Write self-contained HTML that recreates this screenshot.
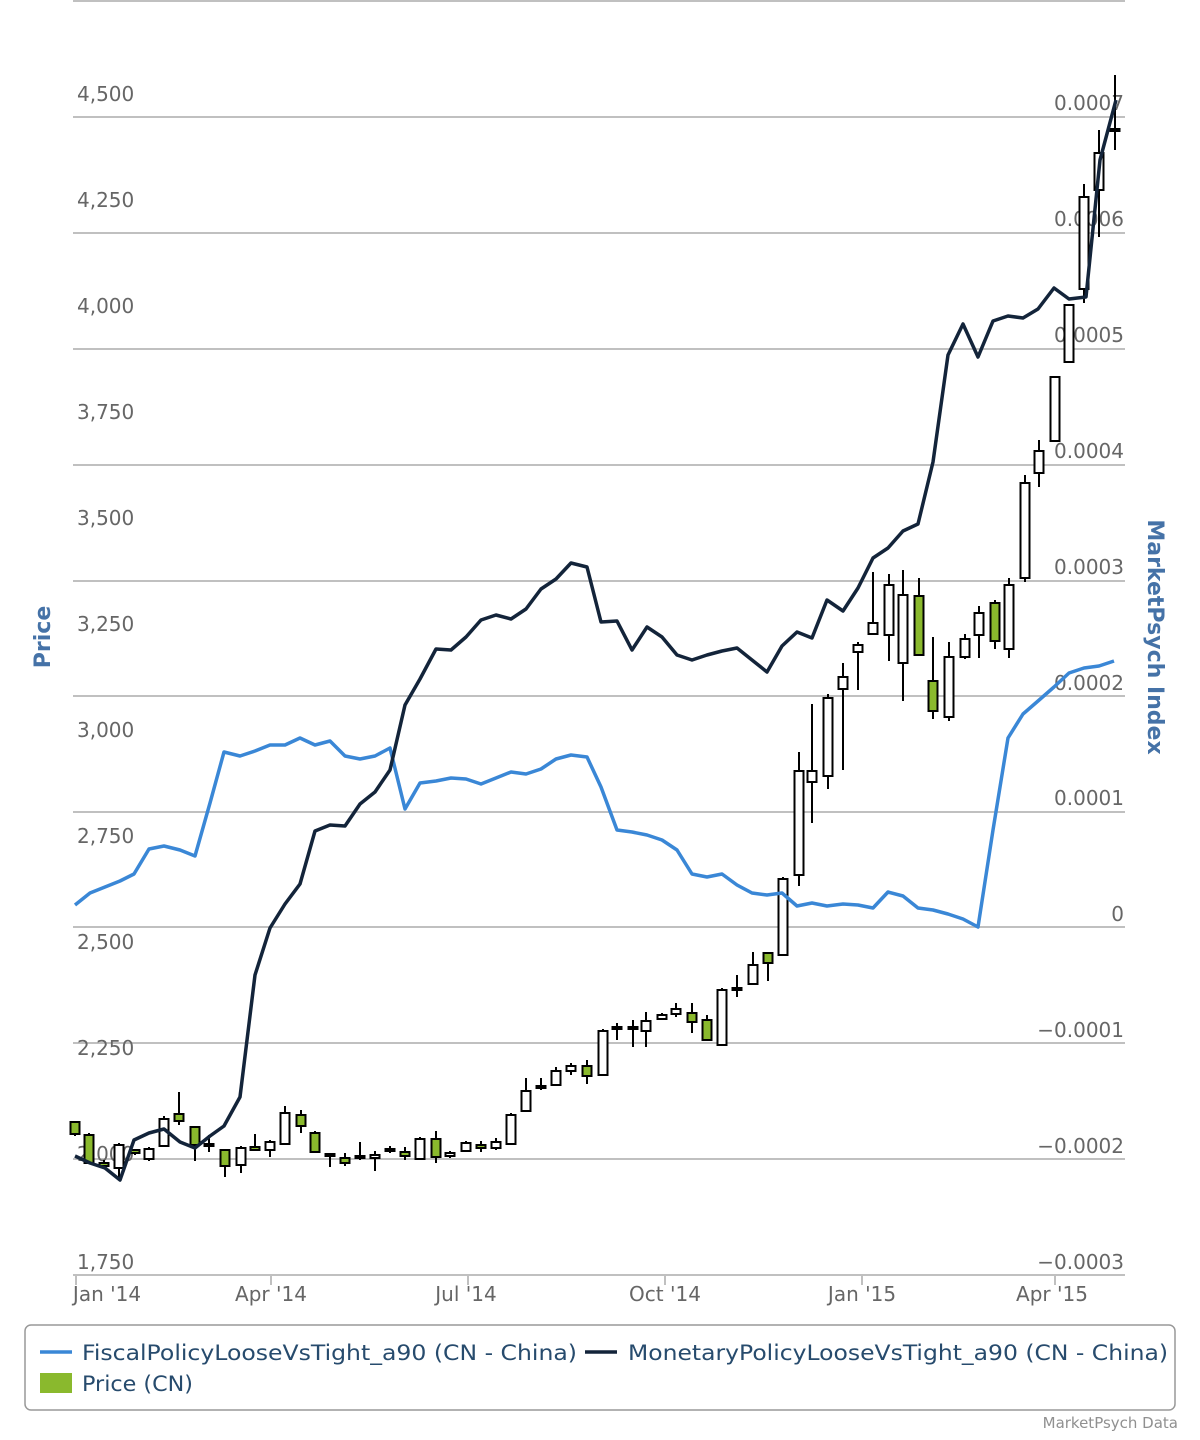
<!DOCTYPE html>
<html><head><meta charset="utf-8"><style>
html,body{margin:0;padding:0;background:#fff;}
svg{display:block;font-family:"DejaVu Sans","Liberation Sans",sans-serif;}
</style></head><body>
<svg width="1200" height="1440" viewBox="0 0 1200 1440" xmlns="http://www.w3.org/2000/svg">
<g stroke="#c0c0c0" stroke-width="2">
<line x1="73" y1="1" x2="1125" y2="1"/>
<line x1="73" y1="117" x2="1125" y2="117"/><line x1="73" y1="233" x2="1125" y2="233"/>
<line x1="73" y1="349" x2="1125" y2="349"/><line x1="73" y1="465" x2="1125" y2="465"/>
<line x1="73" y1="581" x2="1125" y2="581"/><line x1="73" y1="696" x2="1125" y2="696"/>
<line x1="73" y1="812" x2="1125" y2="812"/><line x1="73" y1="927" x2="1125" y2="927"/>
<line x1="73" y1="1043" x2="1125" y2="1043"/><line x1="73" y1="1159" x2="1125" y2="1159"/>
<line x1="73" y1="1275" x2="1125" y2="1275"/>
<line x1="76" y1="1275" x2="76" y2="1285"/><line x1="271" y1="1275" x2="271" y2="1285"/>
<line x1="468" y1="1275" x2="468" y2="1285"/><line x1="665" y1="1275" x2="665" y2="1285"/>
<line x1="862" y1="1275" x2="862" y2="1285"/><line x1="1055" y1="1275" x2="1055" y2="1285"/>
</g>
<g fill="#666" font-size="20">
<text x="77" y="101">4,500</text><text x="77" y="207">4,250</text><text x="77" y="313">4,000</text>
<text x="77" y="419">3,750</text><text x="77" y="525">3,500</text><text x="77" y="631">3,250</text>
<text x="77" y="737">3,000</text><text x="77" y="843">2,750</text><text x="77" y="949">2,500</text>
<text x="77" y="1055">2,250</text><text x="77" y="1161">2,000</text><text x="77" y="1269">1,750</text>
</g>
<g fill="#666" font-size="20" text-anchor="end">
<text x="1124" y="110">0.0007</text><text x="1124" y="226">0.0006</text><text x="1124" y="342">0.0005</text>
<text x="1124" y="458">0.0004</text><text x="1124" y="574">0.0003</text><text x="1124" y="690">0.0002</text>
<text x="1124" y="805">0.0001</text><text x="1124" y="921">0</text><text x="1124" y="1037">−0.0001</text>
<text x="1124" y="1153">−0.0002</text><text x="1124" y="1269">−0.0003</text>
</g>
<g fill="#666" font-size="20" text-anchor="middle">
<text x="107" y="1301">Jan '14</text><text x="271" y="1301">Apr '14</text><text x="466" y="1301">Jul '14</text>
<text x="665" y="1301">Oct '14</text><text x="862" y="1301">Jan '15</text><text x="1052" y="1301">Apr '15</text>
</g>
<text transform="translate(50,637) rotate(-90)" text-anchor="middle" fill="#4572a7" font-size="22" font-weight="bold">Price</text>
<text transform="translate(1148,637) rotate(90)" text-anchor="middle" fill="#4572a7" font-size="22" font-weight="bold">MarketPsych Index</text>
<g stroke="#000" stroke-width="2">
<line x1="75" y1="1122" x2="75" y2="1136"/><rect x="70.5" y="1122" width="9" height="12" fill="#8ab92d"/>
<line x1="89" y1="1133" x2="89" y2="1163"/><rect x="84.5" y="1135" width="9" height="28" fill="#8ab92d"/>
<line x1="104" y1="1160" x2="104" y2="1168"/><rect x="99.5" y="1163" width="9" height="3" fill="#8ab92d"/>
<line x1="119" y1="1143" x2="119" y2="1180"/><rect x="114.5" y="1145" width="9" height="23" fill="#fff"/>
<line x1="135" y1="1150" x2="135" y2="1155"/><rect x="130.5" y="1150" width="9" height="3" fill="#8ab92d"/>
<line x1="149" y1="1147" x2="149" y2="1161"/><rect x="144.5" y="1149" width="9" height="10" fill="#fff"/>
<line x1="164" y1="1116" x2="164" y2="1146"/><rect x="159.5" y="1119" width="9" height="27" fill="#fff"/>
<line x1="179" y1="1092" x2="179" y2="1125"/><rect x="174.5" y="1114" width="9" height="7" fill="#8ab92d"/>
<line x1="195" y1="1127" x2="195" y2="1161"/><rect x="190.5" y="1127" width="9" height="18" fill="#8ab92d"/>
<line x1="209" y1="1135" x2="209" y2="1152"/><rect x="204.5" y="1144" width="9" height="2" fill="#fff"/>
<line x1="225" y1="1150" x2="225" y2="1177"/><rect x="220.5" y="1150" width="9" height="16" fill="#8ab92d"/>
<line x1="241" y1="1146" x2="241" y2="1173"/><rect x="236.5" y="1148" width="9" height="17" fill="#fff"/>
<line x1="255" y1="1134" x2="255" y2="1151"/><rect x="250.5" y="1147" width="9" height="3" fill="#8ab92d"/>
<line x1="270" y1="1140" x2="270" y2="1157"/><rect x="265.5" y="1142" width="9" height="8" fill="#fff"/>
<line x1="285" y1="1106" x2="285" y2="1144"/><rect x="280.5" y="1113" width="9" height="31" fill="#fff"/>
<line x1="301" y1="1110" x2="301" y2="1133"/><rect x="296.5" y="1115" width="9" height="11" fill="#8ab92d"/>
<line x1="315" y1="1131" x2="315" y2="1152"/><rect x="310.5" y="1133" width="9" height="19" fill="#8ab92d"/>
<line x1="330" y1="1153" x2="330" y2="1167"/><rect x="325.5" y="1154" width="9" height="2" fill="#fff"/>
<line x1="345" y1="1153" x2="345" y2="1166"/><rect x="340.5" y="1158" width="9" height="5" fill="#8ab92d"/>
<line x1="360" y1="1142" x2="360" y2="1160"/><rect x="355.5" y="1156" width="9" height="2" fill="#fff"/>
<line x1="375" y1="1151" x2="375" y2="1171"/><rect x="370.5" y="1155" width="9" height="3" fill="#fff"/>
<line x1="390" y1="1146" x2="390" y2="1153"/><rect x="385.5" y="1149" width="9" height="2" fill="#fff"/>
<line x1="405" y1="1147" x2="405" y2="1160"/><rect x="400.5" y="1152" width="9" height="4" fill="#8ab92d"/>
<line x1="420" y1="1137" x2="420" y2="1159"/><rect x="415.5" y="1139" width="9" height="20" fill="#fff"/>
<line x1="436" y1="1131" x2="436" y2="1163"/><rect x="431.5" y="1139" width="9" height="18" fill="#8ab92d"/>
<line x1="450" y1="1151" x2="450" y2="1158"/><rect x="445.5" y="1153" width="9" height="3" fill="#fff"/>
<line x1="466" y1="1141" x2="466" y2="1151"/><rect x="461.5" y="1143" width="9" height="8" fill="#fff"/>
<line x1="481" y1="1141" x2="481" y2="1152"/><rect x="476.5" y="1145" width="9" height="3" fill="#8ab92d"/>
<line x1="496" y1="1138" x2="496" y2="1150"/><rect x="491.5" y="1142" width="9" height="6" fill="#fff"/>
<line x1="511" y1="1113" x2="511" y2="1144"/><rect x="506.5" y="1115" width="9" height="29" fill="#fff"/>
<line x1="526" y1="1078" x2="526" y2="1111"/><rect x="521.5" y="1091" width="9" height="20" fill="#fff"/>
<line x1="541" y1="1078" x2="541" y2="1090"/><rect x="536.5" y="1086" width="9" height="2" fill="#fff"/>
<line x1="556" y1="1067" x2="556" y2="1085"/><rect x="551.5" y="1071" width="9" height="14" fill="#fff"/>
<line x1="571" y1="1063" x2="571" y2="1075"/><rect x="566.5" y="1066" width="9" height="5" fill="#fff"/>
<line x1="587" y1="1060" x2="587" y2="1084"/><rect x="582.5" y="1066" width="9" height="10" fill="#8ab92d"/>
<line x1="603" y1="1029" x2="603" y2="1075"/><rect x="598.5" y="1031" width="9" height="44" fill="#fff"/>
<line x1="617" y1="1023" x2="617" y2="1040"/><rect x="612.5" y="1027" width="9" height="2" fill="#fff"/>
<line x1="633" y1="1020" x2="633" y2="1047"/><rect x="628.5" y="1027" width="9" height="2" fill="#fff"/>
<line x1="646" y1="1012" x2="646" y2="1047"/><rect x="641.5" y="1021" width="9" height="10" fill="#fff"/>
<line x1="662" y1="1013" x2="662" y2="1019"/><rect x="657.5" y="1015" width="9" height="4" fill="#fff"/>
<line x1="676" y1="1003" x2="676" y2="1017"/><rect x="671.5" y="1009" width="9" height="5" fill="#fff"/>
<line x1="692" y1="1003" x2="692" y2="1033"/><rect x="687.5" y="1013" width="9" height="9" fill="#8ab92d"/>
<line x1="707" y1="1015" x2="707" y2="1040"/><rect x="702.5" y="1020" width="9" height="20" fill="#8ab92d"/>
<line x1="722" y1="988" x2="722" y2="1045"/><rect x="717.5" y="990" width="9" height="55" fill="#fff"/>
<line x1="737" y1="975" x2="737" y2="997"/><rect x="732.5" y="988" width="9" height="2" fill="#fff"/>
<line x1="753" y1="952" x2="753" y2="985"/><rect x="748.5" y="965" width="9" height="19" fill="#fff"/>
<line x1="768" y1="953" x2="768" y2="981"/><rect x="763.5" y="953" width="9" height="10" fill="#8ab92d"/>
<line x1="783" y1="877" x2="783" y2="955"/><rect x="778.5" y="879" width="9" height="76" fill="#fff"/>
<line x1="799" y1="752" x2="799" y2="886"/><rect x="794.5" y="771" width="9" height="104" fill="#fff"/>
<line x1="812" y1="704" x2="812" y2="823"/><rect x="807.5" y="771" width="9" height="11" fill="#fff"/>
<line x1="828" y1="694" x2="828" y2="789"/><rect x="823.5" y="698" width="9" height="78" fill="#fff"/>
<line x1="843" y1="663" x2="843" y2="770"/><rect x="838.5" y="677" width="9" height="12" fill="#fff"/>
<line x1="858" y1="642" x2="858" y2="690"/><rect x="853.5" y="645" width="9" height="7" fill="#fff"/>
<line x1="873" y1="572" x2="873" y2="634"/><rect x="868.5" y="623" width="9" height="11" fill="#fff"/>
<line x1="889" y1="574" x2="889" y2="661"/><rect x="884.5" y="585" width="9" height="50" fill="#fff"/>
<line x1="903" y1="570" x2="903" y2="701"/><rect x="898.5" y="595" width="9" height="68" fill="#fff"/>
<line x1="919" y1="578" x2="919" y2="655"/><rect x="914.5" y="596" width="9" height="59" fill="#8ab92d"/>
<line x1="933" y1="637" x2="933" y2="719"/><rect x="928.5" y="681" width="9" height="30" fill="#8ab92d"/>
<line x1="949" y1="642" x2="949" y2="721"/><rect x="944.5" y="657" width="9" height="60" fill="#fff"/>
<line x1="965" y1="634" x2="965" y2="659"/><rect x="960.5" y="639" width="9" height="18" fill="#fff"/>
<line x1="979" y1="606" x2="979" y2="658"/><rect x="974.5" y="613" width="9" height="22" fill="#fff"/>
<line x1="995" y1="600" x2="995" y2="649"/><rect x="990.5" y="603" width="9" height="38" fill="#8ab92d"/>
<line x1="1009" y1="578" x2="1009" y2="658"/><rect x="1004.5" y="585" width="9" height="64" fill="#fff"/>
<line x1="1025" y1="475" x2="1025" y2="582"/><rect x="1020.5" y="483" width="9" height="95" fill="#fff"/>
<line x1="1039" y1="440" x2="1039" y2="487"/><rect x="1034.5" y="451" width="9" height="22" fill="#fff"/>
<line x1="1055" y1="377" x2="1055" y2="441"/><rect x="1050.5" y="377" width="9" height="64" fill="#fff"/>
<line x1="1069" y1="305" x2="1069" y2="362"/><rect x="1064.5" y="305" width="9" height="57" fill="#fff"/>
<line x1="1084" y1="184" x2="1084" y2="303"/><rect x="1079.5" y="197" width="9" height="92" fill="#fff"/>
<line x1="1099" y1="130" x2="1099" y2="237"/><rect x="1094.5" y="153" width="9" height="37" fill="#fff"/>
<line x1="1115" y1="75" x2="1115" y2="150"/><rect x="1110.5" y="129" width="9" height="2" fill="#fff"/>
</g>
<polyline fill="none" stroke="#3a87d6" stroke-width="3.5" stroke-linejoin="round" points="75,905 90,893 105,887 120,881 134,874 149,849 164,846 180,850 195,856 210,803 224,752 240,756 255,751 270,745 285,745 300,738 315,745 330,741 345,756 360,759 375,756 390,748 405,809 420,783 436,781 451,778 466,779 481,784 496,778 511,772 526,774 541,769 556,759 571,755 587,757 601,787 617,830 632,832 647,835 662,840 677,850 692,874 707,877 722,874 737,885 752,893 767,895 782,893 797,906 812,903 827,906 843,904 858,905 873,908 888,892 903,896 918,908 933,910 948,914 963,919 978,927 993,830 1008,738 1023,714 1038,701 1054,687 1069,673 1084,668 1099,666 1114,661"/>
<polyline fill="none" stroke="#13243a" stroke-width="3.5" stroke-linejoin="round" points="75,1156 90,1163 105,1168 120,1180 134,1140 149,1133 164,1129 180,1142 195,1148 210,1136 224,1126 240,1097 255,975 270,928 285,904 300,884 315,831 330,825 345,826 360,804 375,792 390,770 405,705 420,679 436,649 451,650 466,637 481,620 496,615 511,619 526,609 541,589 556,579 571,563 587,567 601,622 617,621 632,650 647,627 662,637 677,655 692,660 707,655 722,651 737,648 752,660 767,672 782,646 797,632 812,638 827,600 843,611 858,588 873,558 888,548 903,531 918,524 933,462 948,355 963,324 978,357 993,321 1008,316 1023,318 1038,309 1054,288 1069,299 1086,297 1100,160 1116,100"/>
<rect x="25" y="1325" width="1150" height="85" rx="6" fill="none" stroke="#999" stroke-width="1.5"/>
<line x1="40" y1="1352" x2="72" y2="1352" stroke="#3a87d6" stroke-width="3.5"/>
<text x="82" y="1360" font-size="21" fill="#274b6d" textLength="495" lengthAdjust="spacingAndGlyphs">FiscalPolicyLooseVsTight_a90 (CN - China)</text>
<line x1="585" y1="1352" x2="617" y2="1352" stroke="#13243a" stroke-width="3.5"/>
<text x="628" y="1360" font-size="21" fill="#274b6d" textLength="540" lengthAdjust="spacingAndGlyphs">MonetaryPolicyLooseVsTight_a90 (CN - China)</text>
<rect x="40" y="1373" width="32" height="20" fill="#8ab92d"/>
<text x="82" y="1391" font-size="21" fill="#274b6d" textLength="111" lengthAdjust="spacingAndGlyphs">Price (CN)</text>
<text x="1178" y="1428" font-size="15" fill="#909090" text-anchor="end">MarketPsych Data</text>
</svg>
</body></html>
